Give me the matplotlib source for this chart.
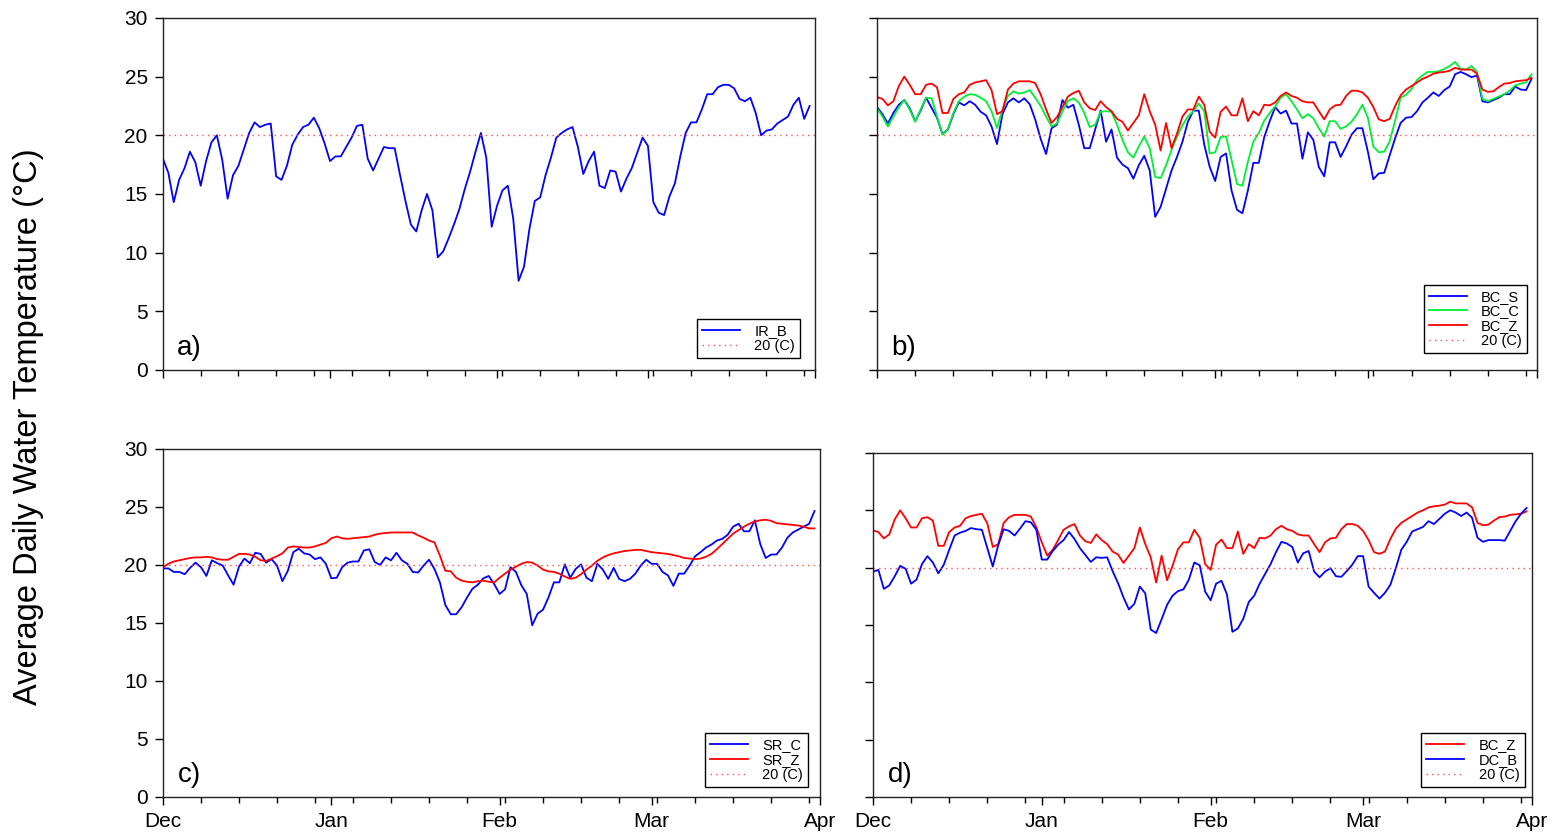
import matplotlib
matplotlib.use("Agg")
import matplotlib.pyplot as plt
import numpy as np

plt.rcParams['font.family'] = ['Liberation Sans', 'DejaVu Sans']

# daily mean temperatures, 1 Dec .. 31 Mar (121 days)
ir_b = [18.0, 16.8, 14.3, 16.2, 17.2, 18.6, 17.7, 15.7, 17.8, 19.4,
        20.0, 17.9, 14.6, 16.6, 17.4, 18.8, 20.2, 21.1, 20.7, 20.9,
        21.0, 16.5, 16.2, 17.4, 19.2, 20.05, 20.7, 20.9, 21.5, 20.6,
        19.3, 17.8, 18.2, 18.2, 19.0, 19.8, 20.8, 20.9, 18.0, 17.0,
        18.0, 19.0, 18.9, 18.9, 16.6, 14.4, 12.4, 11.8, 13.6, 15.0,
        13.6, 9.6, 10.1, 11.2, 12.4, 13.7, 15.4, 16.9, 18.6, 20.2,
        18.1, 12.2, 14.0, 15.3, 15.7, 12.9, 7.6, 8.8, 12.0, 14.4,
        14.7, 16.6, 18.1, 19.8, 20.2, 20.5, 20.7, 19.0, 16.7, 17.8,
        18.6, 15.7, 15.5, 17.0, 16.9, 15.2, 16.3, 17.2, 18.5, 19.8,
        19.1, 14.3, 13.4, 13.2, 14.8, 15.9, 18.2, 20.2, 21.1, 21.1,
        22.2, 23.5, 23.5, 24.1, 24.3, 24.3, 24.0, 23.1, 22.9, 23.2,
        21.9, 20.0, 20.4, 20.5, 21.0, 21.3, 21.6, 22.6, 23.2, 21.4,
        22.5]

bc_s = [22.4, 21.8, 21.0, 21.9, 22.6, 23.0, 22.3, 21.2, 22.1, 23.2,
        22.35, 21.5, 20.1, 20.5, 21.8, 22.8, 22.55, 22.9, 22.6, 22.0,
        21.7, 20.75, 19.25, 21.8, 22.8, 23.15, 22.8, 23.15, 22.65, 21.35,
        19.7, 18.4, 20.6, 20.9, 23.0, 22.35, 22.6, 20.9, 18.9, 18.9,
        20.5, 22.1, 19.45, 20.5, 18.1, 17.5, 17.2, 16.3, 17.45, 18.25,
        17.0, 13.05, 13.9, 15.45, 17.0, 18.15, 19.45, 21.15, 22.1, 22.1,
        19.2, 17.3, 16.1, 18.15, 18.45, 15.3, 13.65, 13.35, 15.3, 17.65,
        17.65, 19.85, 21.2, 22.4, 21.85, 22.1, 21.0, 21.0, 18.0, 20.25,
        19.6, 17.3, 16.5, 19.4, 19.4, 18.15, 19.05, 20.05, 20.6, 20.6,
        18.6, 16.25, 16.75, 16.8, 18.3, 19.75, 21.05, 21.5, 21.55, 22.05,
        22.8, 23.2, 23.65, 23.35, 23.85, 24.15, 25.2, 25.4, 25.2, 24.95,
        25.1, 22.9, 22.8, 23.0, 23.2, 23.5, 23.5, 24.15, 23.9, 23.85,
        24.8]

bc_c = [22.3, 21.6, 20.75, 21.6, 22.4, 23.0, 22.2, 21.15, 22.2, 23.2,
        23.15, 21.6, 20.05, 20.5, 21.9, 22.9, 23.3, 23.5, 23.45, 23.2,
        22.9, 22.05, 20.6, 22.2, 23.35, 23.75, 23.55, 23.65, 23.85, 23.2,
        22.5, 21.6, 20.75, 21.0, 22.05, 22.9, 23.15, 22.8, 21.9, 20.7,
        20.9, 22.0, 22.05, 22.0, 20.9, 19.6, 18.55, 18.1, 19.05, 19.9,
        18.9, 16.45, 16.35, 17.45, 18.75, 19.9, 20.85, 21.6, 22.05, 22.7,
        22.05, 18.45, 18.55, 19.85, 19.9, 17.9, 15.85, 15.7, 17.75, 19.45,
        20.2, 21.25, 21.9, 22.45, 23.2, 23.5, 22.9, 22.2, 21.45, 21.8,
        21.45, 20.6, 19.9, 21.2, 21.2, 20.55, 20.75, 21.15, 21.8, 22.6,
        21.5, 19.05, 18.55, 18.6, 19.5, 21.25, 23.2, 23.45, 23.95, 24.7,
        25.1, 25.4, 25.4, 25.45, 25.65, 25.9, 26.25, 25.65, 25.6, 25.9,
        25.4, 23.1, 22.9, 23.1, 23.3, 23.5, 23.8, 24.25, 24.4, 24.5,
        25.2]

bc_z = [23.25, 23.1, 22.55, 22.9, 24.2, 25.0, 24.3, 23.5, 23.5, 24.3,
        24.4, 24.1, 21.9, 21.9, 23.1, 23.5, 23.65, 24.3, 24.5, 24.6,
        24.7, 23.85, 21.8, 22.05, 23.9, 24.4, 24.6, 24.6, 24.6, 24.45,
        23.5, 22.2, 21.05, 21.55, 22.4, 23.3, 23.6, 23.8, 22.8, 22.3,
        22.15, 22.9, 22.4, 22.05, 21.4, 21.15, 20.4, 21.05, 21.7, 23.5,
        22.05, 20.9, 18.7, 21.05, 18.9, 20.15, 21.6, 22.2, 22.2, 23.3,
        22.6, 20.3, 19.8, 22.0, 22.45, 21.7, 21.7, 23.15, 21.2, 22.05,
        21.7, 22.6, 22.55, 22.8, 23.35, 23.65, 23.35, 23.2, 22.9, 22.8,
        22.8, 22.05, 21.35, 22.2, 22.55, 22.6, 23.35, 23.8, 23.8, 23.65,
        23.2, 22.4, 21.35, 21.2, 21.4, 22.5, 23.4, 23.9, 24.2, 24.5,
        24.8, 25.0, 25.25, 25.35, 25.4, 25.5, 25.75, 25.6, 25.6, 25.6,
        25.25, 23.9, 23.7, 23.75, 24.1, 24.4, 24.45, 24.6, 24.65, 24.7,
        24.9]

sr_c = [19.7, 19.7, 19.4, 19.4, 19.2, 19.75, 20.2, 19.8, 19.05, 20.4,
        20.15, 19.95, 19.1, 18.3, 19.85, 20.55, 20.15, 21.05, 20.95, 20.2,
        20.5, 19.95, 18.6, 19.5, 21.1, 21.4, 21.0, 20.9, 20.5, 20.65,
        20.1, 18.85, 18.9, 19.8, 20.2, 20.3, 20.3, 21.25, 21.35, 20.25,
        20.0, 20.65, 20.4, 21.05, 20.4, 20.1, 19.4, 19.35, 19.95, 20.45,
        19.65, 18.5, 16.55, 15.75, 15.75, 16.35, 17.2, 17.95, 18.3, 18.85,
        19.05, 18.35, 17.5, 17.9, 19.8, 19.4, 18.25, 17.5, 14.8, 15.8,
        16.15, 17.2, 18.5, 18.5, 20.05, 18.9, 19.65, 20.05, 18.9, 18.6,
        20.1, 19.6, 18.8, 19.75, 18.8, 18.6, 18.8, 19.25, 19.95, 20.45,
        20.1, 20.1, 19.4, 19.1, 18.2, 19.25, 19.25, 19.95, 20.75, 21.1,
        21.5, 21.75, 22.1, 22.25, 22.6, 23.3, 23.55, 22.9, 22.9, 23.85,
        21.8, 20.6, 20.9, 20.9, 21.5, 22.35, 22.8, 23.05, 23.3, 23.55,
        24.65]

sr_z = [19.8, 20.1, 20.3, 20.4, 20.5, 20.6, 20.65, 20.65, 20.7, 20.65,
        20.5, 20.45, 20.45, 20.7, 20.95, 20.95, 20.9, 20.7, 20.4, 20.35,
        20.55, 20.75, 21.0, 21.5, 21.6, 21.55, 21.5, 21.5, 21.6, 21.75,
        21.9, 22.3, 22.45, 22.3, 22.25, 22.3, 22.35, 22.4, 22.45, 22.6,
        22.7, 22.75, 22.8, 22.8, 22.8, 22.8, 22.8, 22.55, 22.35, 22.1,
        21.95, 20.8, 19.5, 19.45, 18.9, 18.65, 18.55, 18.5, 18.6, 18.65,
        18.55, 18.5, 18.9, 19.25, 19.6, 19.85, 20.1, 20.25, 20.2, 19.95,
        19.6, 19.45, 19.4, 19.25, 19.0, 18.8, 18.9, 19.2, 19.6, 19.95,
        20.35, 20.65, 20.85, 21.0, 21.1, 21.2, 21.25, 21.3, 21.3, 21.2,
        21.1, 21.05, 21.0, 20.95, 20.85, 20.75, 20.6, 20.55, 20.5, 20.55,
        20.7, 20.95, 21.35, 21.8, 22.25, 22.7, 23.0, 23.3, 23.55, 23.75,
        23.85, 23.9, 23.8, 23.6, 23.55, 23.5, 23.45, 23.4, 23.3, 23.15,
        23.15]

dc_b = [19.65, 19.8, 18.15, 18.45, 19.25, 20.15, 19.9, 18.6, 18.95, 20.3,
        21.0, 20.45, 19.5, 20.25, 21.55, 22.8, 23.05, 23.2, 23.45, 23.35,
        23.3, 21.7, 20.1, 21.95, 23.35, 23.2, 22.8, 23.4, 24.05, 23.95,
        23.3, 20.7, 20.7, 21.45, 22.0, 22.4, 23.1, 22.5, 21.7, 21.1,
        20.5, 20.9, 20.85, 20.9, 19.7, 18.65, 17.4, 16.35, 16.85, 18.35,
        17.75, 14.6, 14.3, 15.5, 16.75, 17.55, 17.95, 18.1, 18.95, 20.45,
        20.2, 17.9, 17.15, 18.6, 18.85, 17.65, 14.4, 14.7, 15.55, 17.0,
        17.55, 18.6, 19.45, 20.3, 21.35, 22.25, 22.1, 21.8, 20.45, 21.25,
        21.45, 19.65, 19.15, 19.65, 19.95, 19.25, 19.2, 19.7, 20.25, 21.0,
        21.0, 18.35, 17.8, 17.3, 17.8, 18.5, 19.95, 21.55, 22.25, 23.15,
        23.35, 23.55, 24.05, 23.8, 24.25, 24.7, 25.0, 24.8, 24.5, 24.8,
        24.35, 22.6, 22.25, 22.4, 22.4, 22.4, 22.35, 23.2, 24.05, 24.7,
        25.2]

month_days = [0, 31, 62, 90, 121]
month_labels = ['Dec', 'Jan', 'Feb', 'Mar', 'Apr']
threshold = 20

days = np.arange(len(ir_b))

fig = plt.figure(figsize=(15.58, 8.34), dpi=100)

panels = [
    ([0.1046, 0.5564, 0.4185, 0.4221], 'a)', [(ir_b, 'IR_B', '#0000ff')], True, False, (0.977, 0.034)),
    ([0.5629, 0.5564, 0.4236, 0.4221], 'b)', [(bc_s, 'BC_S', '#0000ff'), (bc_c, 'BC_C', '#00ee33'),
                                              (bc_z, 'BC_Z', '#ff0000')], False, False, (0.985, 0.048)),
    ([0.1046, 0.0444, 0.4217, 0.4173], 'c)', [(sr_c, 'SR_C', '#0000ff'), (sr_z, 'SR_Z', '#ff0000')],
     True, True, (0.982, 0.029)),
    ([0.5603, 0.0444, 0.4230, 0.4125], 'd)', [(bc_z, 'BC_Z', '#ff0000'), (dc_b, 'DC_B', '#0000ff')],
     False, True, (0.989, 0.029)),
]

for rect, tag, series, ylab, xlab, leg_pos in panels:
    ax = fig.add_axes(rect)
    for vals, name, col in series:
        ax.plot(days, vals, color=col, lw=1.3, label=name)
    ax.axhline(threshold, color='#ff5050', lw=1.0, ls=(0, (1, 3)), label='20 (C)')

    ax.set_xlim(0, 121)
    ax.set_ylim(0, 30)
    ax.set_yticks(range(0, 31, 5))
    ax.set_xticks(month_days)
    ax.set_xticks(np.arange(0, 121, 7), minor=True)
    if xlab:
        ax.set_xticklabels(month_labels)
    else:
        ax.set_xticklabels([])
    if not ylab:
        ax.set_yticklabels([])
    ax.tick_params(axis='both', which='major', direction='out', length=6, width=1, labelsize=15)
    ax.tick_params(axis='x', which='minor', direction='out', length=4.5, width=1)
    ax.tick_params(axis='y', pad=5)
    ax.tick_params(axis='x', pad=5)
    for s in ax.spines.values():
        s.set_linewidth(1.0)
        s.set_color('#222222')

    ax.text(0.022, 0.025, tag, transform=ax.transAxes, fontsize=20, va='bottom', ha='left')

    leg = ax.legend(loc='lower right', bbox_to_anchor=leg_pos, fontsize=10.5, frameon=True,
                    fancybox=False, edgecolor='black', framealpha=1, handlelength=2.6,
                    borderpad=0.35, labelspacing=0.05, handletextpad=1.0, borderaxespad=0)
    leg.get_frame().set_linewidth(1.0)

fig.text(0.018, 0.488, 'Average Daily Water Temperature (°C)', rotation=90,
         va='center', ha='center', fontsize=23.5)

fig.savefig('out.png', dpi=100)
